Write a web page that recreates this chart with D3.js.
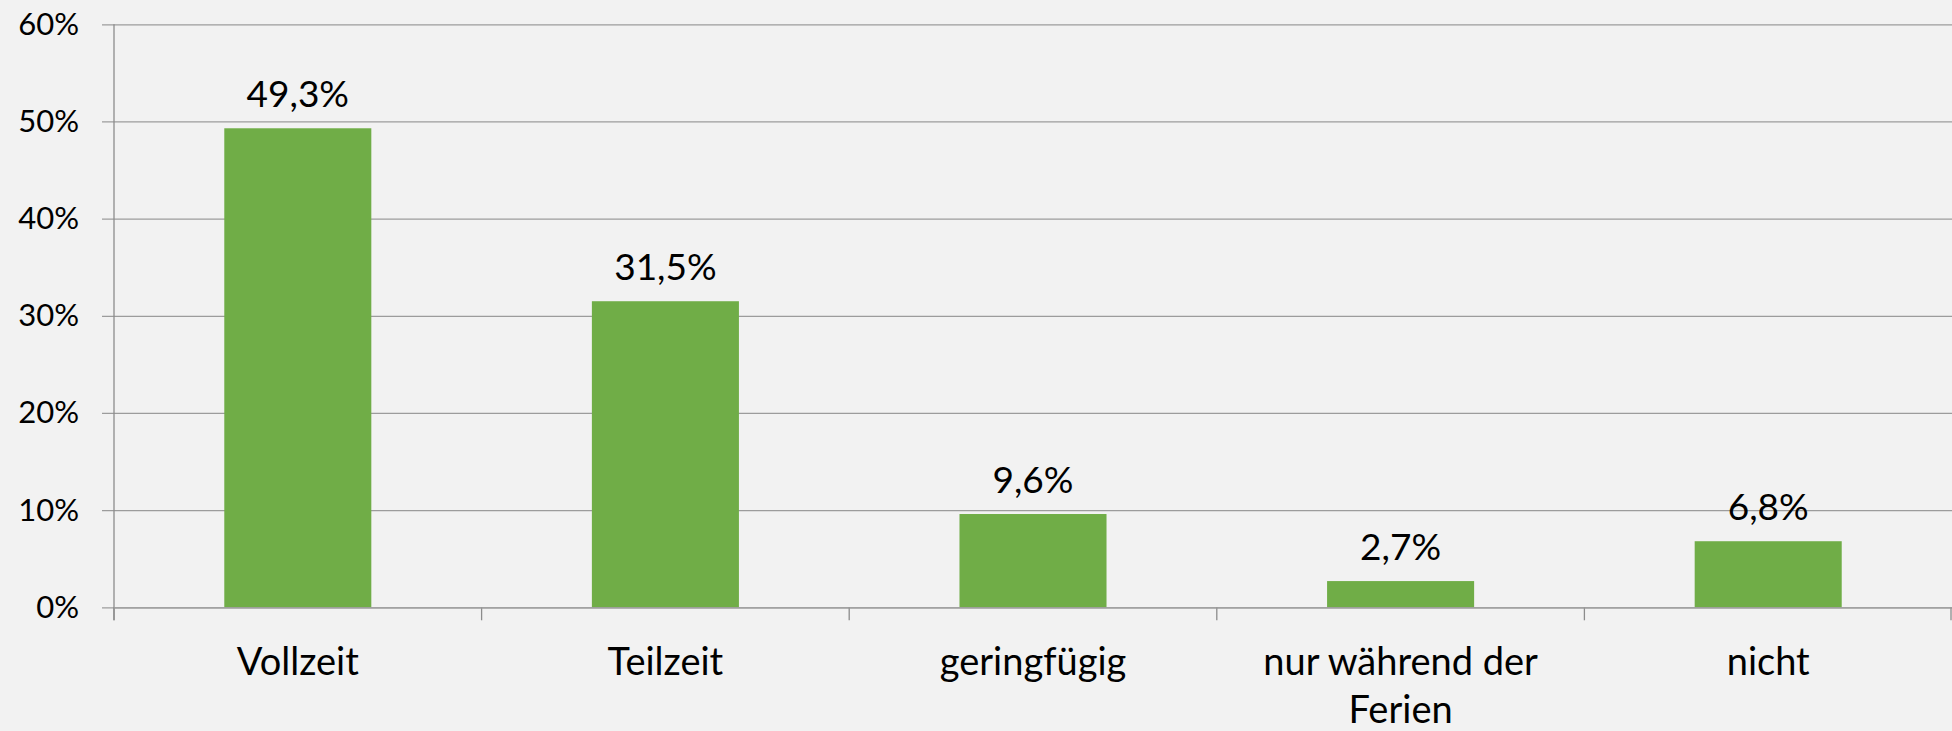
<!DOCTYPE html>
<html>
<head>
<meta charset="utf-8">
<script src="https://cdn.jsdelivr.net/npm/d3@7"></script>
<style>
  body { margin: 0; background: #f2f2f2; }
  svg { display: block; font-family: Lato, sans-serif; }
</style>
</head>
<body>
<svg id="chart"></svg>
<script>
// Daten
let categories = ["Vollzeit", "Teilzeit", "geringfügig", "nur während der Ferien", "nicht"];
let values = [49.3, 31.5, 9.6, 2.7, 6.8];
let yTicks = [0, 10, 20, 30, 40, 50, 60];

let width = 1952, height = 731;
let plotLeft = 114, plotRight = 1952, plotTop = 24.3, plotBottom = 607.3;

let de = d3.formatLocale({decimal: ",", thousands: ".", grouping: [3], currency: ["", " €"]});
let fmt = de.format(".1f");

let svg = d3.select("#chart").attr("width", width).attr("height", height);
svg.append("rect").attr("width", width).attr("height", height).attr("fill", "#f2f2f2");

let x = d3.scaleBand().domain(categories).range([plotLeft, plotRight])
    .paddingInner(0.6).paddingOuter(0.3);
let y = d3.scaleLinear().domain([0, 60]).range([plotBottom, plotTop]);

// Gitternetz + Y-Beschriftung
let yAxis = svg.append("g")
    .attr("transform", `translate(${plotLeft - 12},0)`)
    .call(d3.axisLeft(y).tickValues(yTicks).tickFormat(d => d + "%")
        .tickSize(-(plotRight - plotLeft + 12)).tickPadding(23));
yAxis.select(".domain").remove();
yAxis.selectAll(".tick line").attr("stroke", "#9c9c9c").attr("stroke-width", 1.3);
yAxis.selectAll(".tick text").attr("font-size", 31).attr("fill", "#000")
    .attr("font-family", "Lato, sans-serif");

// senkrechte Achse
svg.append("line")
    .attr("x1", plotLeft).attr("x2", plotLeft)
    .attr("y1", y(60)).attr("y2", plotBottom + 13)
    .attr("stroke", "#8c8c8c").attr("stroke-width", 1.3);

// Kategorie-Trennstriche
let gap = (x.step() - x.bandwidth()) / 2;
let bounds = categories.map(c => x(c) - gap).concat([x(categories[categories.length - 1]) + x.bandwidth() + gap]);
svg.selectAll(".cat-tick").data(bounds).enter().append("line")
    .attr("class", "cat-tick")
    .attr("x1", d => Math.min(d, width - 1)).attr("x2", d => Math.min(d, width - 1))
    .attr("y1", plotBottom).attr("y2", plotBottom + 13)
    .attr("stroke", "#8c8c8c").attr("stroke-width", 1.3);

// Balken
svg.selectAll(".bar").data(values).enter().append("rect")
    .attr("class", "bar")
    .attr("x", (d, i) => x(categories[i]))
    .attr("y", d => y(d))
    .attr("width", x.bandwidth())
    .attr("height", d => plotBottom - y(d))
    .attr("fill", "#70ad47");

// Wertebeschriftung
svg.selectAll(".bar-label").data(values).enter().append("text")
    .attr("class", "bar-label")
    .attr("x", (d, i) => x(categories[i]) + x.bandwidth() / 2)
    .attr("y", d => y(d) - 21)
    .attr("text-anchor", "middle")
    .attr("font-size", 37)
    .attr("fill", "#000")
    .text(d => fmt(d) + "%");

// X-Beschriftung
let xAxis = svg.append("g")
    .attr("transform", `translate(0,${plotBottom})`)
    .call(d3.axisBottom(x).tickSize(0).tickPadding(0));
xAxis.select(".domain").attr("stroke", "#9c9c9c").attr("stroke-width", 1.3)
    .attr("d", `M${plotLeft},0.5H${plotRight}`);
xAxis.selectAll(".tick text")
    .attr("font-size", 38).attr("fill", "#000")
    .attr("font-family", "Lato, sans-serif")
    .attr("dy", null)
    .attr("y", 675 - plotBottom)
    .call(wrap, x.step() - 30);

function wrap(texts, w) {
    texts.each(function () {
        let text = d3.select(this);
        let words = text.text().split(/\s+/);
        let lines = [[]];
        text.text(null);
        let tspan = text.append("tspan").attr("x", 0);
        for (let word of words) {
            let cur = lines[lines.length - 1];
            cur.push(word);
            tspan.text(cur.join(" "));
            if (tspan.node().getComputedTextLength() > w && cur.length > 1) {
                cur.pop();
                tspan.text(cur.join(" "));
                lines.push([word]);
                tspan = text.append("tspan").attr("x", 0).attr("dy", 48).text(word);
            }
        }
    });
}
</script>
</body>
</html>
